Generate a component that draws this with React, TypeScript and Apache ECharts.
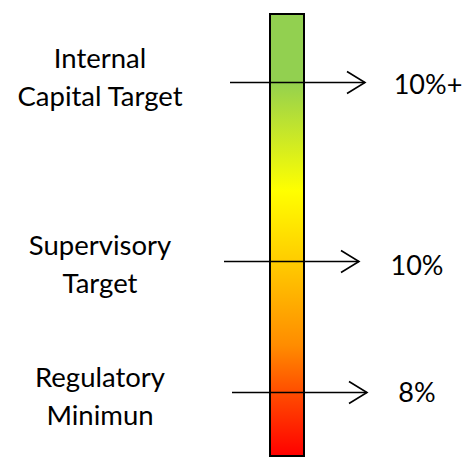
import React, { useEffect, useRef } from "react";
import * as echarts from "echarts";

// ---- data ----
const levelNames = ["Internal\nCapital Target", "Supervisory\nTarget", "Regulatory\nMinimun"];
const levelValues = ["10%+", "10%", "8%"];
// position of each threshold on the bar's 0–100 scale (bottom = 0, top = 100)
const levelPositions = [84.4, 44.2, 14.6];
const barCategories = ["capital"];
const barValues = [100];

// ---- styles (pixel offsets relative to bar centre / arrow line) ----
const arrowLeft = [-57, -63, -55];
const arrowRight = [78, 72, 80];
const leftLabelX = 100;
const leftLabelDy = [-6, 2, 3];
const rightLabelX = [428, 417, 417];
const rightLabelDy = [1, 3, -1];

const FONT = "Lato, 'Open Sans', sans-serif";

export default function App() {
  const ref = useRef<HTMLDivElement>(null);
  useEffect(() => {
    if (!ref.current) return;
    const chart = echarts.init(ref.current, undefined, { renderer: "svg" });
    const gradient = new echarts.graphic.LinearGradient(0, 0, 0, 1, [
      { offset: 0, color: "#92D050" },
      { offset: 0.15, color: "#92D050" },
      { offset: 0.4, color: "#FFFF00" },
      { offset: 0.56, color: "#FFCC00" },
      { offset: 0.75, color: "#FF8C00" },
      { offset: 0.86, color: "#FF4B00" },
      { offset: 1, color: "#FF0000" },
    ]);
    chart.setOption({
      animation: false,
      grid: { left: 268, width: 38, top: 13, height: 444 },
      xAxis: { type: "category", data: barCategories, show: false },
      yAxis: { type: "value", min: 0, max: 100, show: false },
      series: [
        {
          type: "bar",
          data: barValues,
          barWidth: 36,
          itemStyle: { color: gradient, borderColor: "#000", borderWidth: 2 },
          silent: true,
          z: 1,
        },
        {
          type: "custom",
          z: 5,
          silent: true,
          data: levelPositions.map((p, i) => [0, p, i]),
          renderItem: (params: any, api: any) => {
            const i = api.value(2);
            const pt = api.coord([0, api.value(1)]);
            const cx = pt[0];
            const y = Math.round(pt[1]) + 0.5;
            const x0 = cx + arrowLeft[i];
            const x1 = cx + arrowRight[i];
            return {
              type: "group",
              children: [
                {
                  type: "line",
                  shape: { x1: x0, y1: y, x2: x1, y2: y },
                  style: { stroke: "#000", lineWidth: 1.6 },
                },
                {
                  type: "polyline",
                  shape: { points: [[x1 - 18, y - 11], [x1, y], [x1 - 18, y + 11]] },
                  style: { stroke: "#000", lineWidth: 1.6, fill: null },
                },
                {
                  type: "text",
                  x: leftLabelX,
                  y: y + leftLabelDy[i],
                  style: {
                    text: levelNames[i],
                    fontFamily: FONT,
                    fontSize: 27.5,
                    lineHeight: 38,
                    fill: "#000",
                    align: "center",
                    verticalAlign: "middle",
                  },
                },
                {
                  type: "text",
                  x: rightLabelX[i],
                  y: y + rightLabelDy[i],
                  style: {
                    text: levelValues[i],
                    fontFamily: FONT,
                    fontSize: 27,
                    fill: "#000",
                    align: "center",
                    verticalAlign: "middle",
                  },
                },
              ],
            };
          },
        },
      ],
    });
    return () => chart.dispose();
  }, []);
  return <div ref={ref} style={{ width: 468, height: 460, position: "absolute", left: 0, top: 0 }} />;
}
